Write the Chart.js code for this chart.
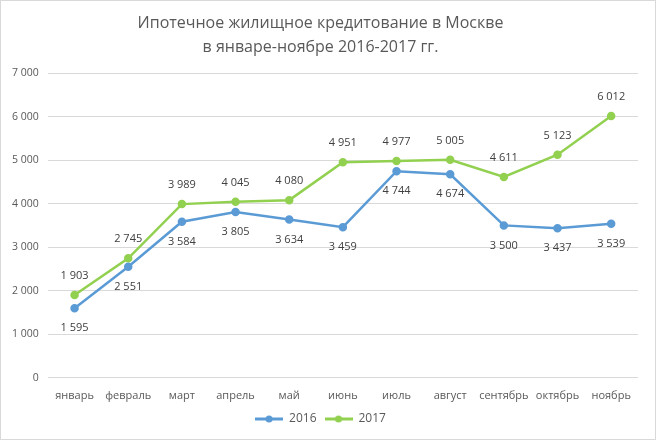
<!DOCTYPE html>
<html>
<head>
<meta charset="utf-8">
<script src="https://cdn.jsdelivr.net/npm/chart.js@4"></script>
<style>
  body { margin: 0; background: #fff; }
  #wrap { width: 654px; height: 438px; border: 1px solid #d9d9d9; }
</style>
</head>
<body>
<div id="wrap"><canvas id="myChart" width="654" height="438"></canvas></div>
<script>
const months = ['январь', 'февраль', 'март', 'апрель', 'май', 'июнь', 'июль', 'август', 'сентябрь', 'октябрь', 'ноябрь'];
const values2016 = [1595, 2551, 3584, 3805, 3634, 3459, 4744, 4674, 3500, 3437, 3539];
const values2017 = [1903, 2745, 3989, 4045, 4080, 4951, 4977, 5005, 4611, 5123, 6012];
const titleLines = ['Ипотечное жилищное кредитование в Москве', 'в январе-ноябре 2016-2017 гг.'];

function fmt(v) {
  return String(v).replace(/\B(?=(\d{3})+(?!\d))/g, ' ');
}

// legend marker: short line with a dot in the middle
function marker(color) {
  const cv = document.createElement('canvas');
  cv.width = 28; cv.height = 10;
  const c = cv.getContext('2d');
  c.strokeStyle = color;
  c.lineWidth = 3;
  c.beginPath(); c.moveTo(0, 5); c.lineTo(28, 5); c.stroke();
  c.fillStyle = color;
  c.beginPath(); c.arc(14, 5, 3.5, 0, Math.PI * 2); c.fill();
  return cv;
}

// value labels: 2016 under the points, 2017 above
const pointLabels = {
  id: 'pointLabels',
  afterDatasetsDraw(chart) {
    const c = chart.ctx;
    c.save();
    c.font = '11px "Open Sans"';
    c.fillStyle = '#404040';
    c.textAlign = 'center';
    c.textBaseline = 'middle';
    chart.data.datasets.forEach((ds, i) => {
      const meta = chart.getDatasetMeta(i);
      meta.data.forEach((pt, j) => {
        const dy = i == 0 ? 20 : -19;
        c.fillText(fmt(ds.data[j]), pt.x, pt.y + dy);
      });
    });
    c.restore();
  }
};

const ctx = document.getElementById('myChart');
new Chart(ctx, {
  type: 'line',
  data: {
    labels: months,
    datasets: [{
      label: '2016',
      data: values2016,
      borderColor: '#5b9bd5',
      backgroundColor: '#5b9bd5',
      borderWidth: 2.5,
      pointRadius: 3,
      pointStyle: 'circle',
      tension: 0
    }, {
      label: '2017',
      data: values2017,
      borderColor: '#92d050',
      backgroundColor: '#92d050',
      borderWidth: 2.5,
      pointRadius: 3,
      pointStyle: 'circle',
      tension: 0
    }]
  },
  plugins: [pointLabels],
  options: {
    responsive: false,
    animation: false,
    layout: { padding: { left: 2, right: 17, top: 6, bottom: 4 } },
    plugins: {
      title: {
        display: true,
        text: titleLines,
        color: '#595959',
        font: { family: 'Open Sans', size: 16, weight: 'normal', lineHeight: 1.5 },
        padding: { top: 4, bottom: 14 }
      },
      legend: {
        position: 'bottom',
        labels: {
          color: '#595959',
          font: { family: 'Open Sans', size: 12 },
          usePointStyle: true,
          pointStyleWidth: 28,
          padding: 8,
          generateLabels(chart) {
            return chart.data.datasets.map((ds, i) => ({
              text: ds.label,
              fontColor: '#595959',
              pointStyle: marker(ds.borderColor),
              datasetIndex: i,
              lineWidth: 0
            }));
          }
        }
      },
      tooltip: { enabled: false }
    },
    scales: {
      x: {
        offset: true,
        grid: { display: false },
        border: { display: false },
        ticks: { color: '#595959', font: { family: 'Open Sans', size: 11 }, maxRotation: 0, autoSkip: false, padding: 3 }
      },
      y: {
        min: 0,
        max: 7000,
        grid: { color: '#d9d9d9', drawTicks: false },
        border: { display: false },
        ticks: {
          stepSize: 1000,
          padding: 9,
          color: '#595959',
          font: { family: 'Open Sans', size: 10.5 },
          callback: v => fmt(v)
        }
      }
    }
  }
});
</script>
</body>
</html>
